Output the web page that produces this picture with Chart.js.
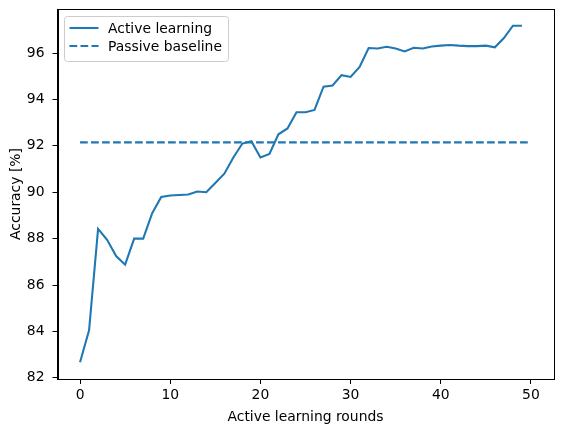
<!DOCTYPE html>
<html>
<head>
<meta charset="utf-8">
<script src="https://cdn.jsdelivr.net/npm/chart.js@4/dist/chart.umd.min.js"></script>
<style>
html,body{margin:0;padding:0;background:#fff;}
#wrap{width:563px;height:432px;position:relative;}
</style>
</head>
<body>
<div id="wrap"><canvas id="c" width="563" height="432"></canvas></div>
<script>
const rounds = [0,1,2,3,4,5,6,7,8,9,10,11,12,13,14,15,16,17,18,19,20,21,22,23,24,25,26,27,28,29,30,31,32,33,34,35,36,37,38,39,40,41,42,43,44,45,46,47,48,49];
const activeAccuracy = [82.67,84.05,88.42,87.95,87.25,86.88,88.0,88.0,89.1,89.8,
  89.86,89.88,89.9,90.03,90.0,90.4,90.8,91.5,92.1,92.2,
  91.5,91.65,92.5,92.75,93.45,93.45,93.55,94.55,94.6,95.05,
  94.97,95.4,96.22,96.2,96.27,96.2,96.07,96.23,96.2,96.28,
  96.32,96.35,96.32,96.3,96.3,96.32,96.25,96.65,97.18,97.18];
const baselineX = [0,50];
const baselineAccuracy = [92.15,92.15];
const xTicks = [0,10,20,30,40,50];
const yTicks = [82,84,86,88,90,92,94,96];
const seriesLabels = ['Active learning','Passive baseline'];

const BLUE = '#1f77b4';
const FONT = "'DejaVu Sans', sans-serif";
const FS = 13.9;

const framePlugin = {
  id: 'frame',
  afterDatasetsDraw(chart){
    const {ctx, chartArea:a} = chart;
    ctx.save();
    ctx.strokeStyle = '#000';
    ctx.lineWidth = 1;
    ctx.strokeRect(Math.round(a.left)+0.5, Math.round(a.top)+0.5, Math.round(a.right-a.left), Math.round(a.bottom-a.top));
    ctx.restore();
  }
};

const legendPlugin = {
  id: 'mplLegend',
  afterDraw(chart){
    const {ctx, chartArea:a} = chart;
    const x0 = a.left + 7, y0 = a.top + 7.5, w = 164, h = 45, r = 3;
    ctx.save();
    ctx.beginPath();
    ctx.moveTo(x0+r, y0);
    ctx.arcTo(x0+w, y0, x0+w, y0+h, r);
    ctx.arcTo(x0+w, y0+h, x0, y0+h, r);
    ctx.arcTo(x0, y0+h, x0, y0, r);
    ctx.arcTo(x0, y0, x0+w, y0, r);
    ctx.closePath();
    ctx.fillStyle = 'rgba(255,255,255,0.8)';
    ctx.fill();
    ctx.strokeStyle = '#cccccc';
    ctx.lineWidth = 1;
    ctx.stroke();
    const rows = [y0 + 11.5, y0 + 29.5];
    chart.data.datasets.forEach((ds, i) => {
      const y = rows[i];
      ctx.beginPath();
      ctx.strokeStyle = ds.borderColor;
      ctx.lineWidth = ds.borderWidth;
      ctx.setLineDash(ds.borderDash || []);
      ctx.moveTo(x0 + 5, y);
      ctx.lineTo(x0 + 34, y);
      ctx.stroke();
      ctx.setLineDash([]);
      ctx.fillStyle = '#000';
      ctx.font = FS + 'px ' + FONT;
      ctx.textBaseline = 'middle';
      ctx.fillText(ds.label, x0 + 43.5, y + 1);
    });
    ctx.restore();
  }
};

new Chart(document.getElementById('c'), {
  type: 'line',
  data: {
    datasets: [
      {
        label: seriesLabels[0],
        data: rounds.map((r, i) => ({x: r, y: activeAccuracy[i]})),
        borderColor: BLUE, borderWidth: 2.08, pointRadius: 0, tension: 0, fill: false
      },
      {
        label: seriesLabels[1],
        data: baselineX.map((r, i) => ({x: r, y: baselineAccuracy[i]})),
        borderColor: BLUE, borderWidth: 2.08, borderDash: [7.7, 3.3], pointRadius: 0, tension: 0, fill: false
      }
    ]
  },
  options: {
    responsive: false,
    animation: false,
    devicePixelRatio: 1,
    layout: {padding: {top: 9, right: 9.5, left: 0, bottom: 0}},
    plugins: {legend: {display: false}, tooltip: {enabled: false}},
    scales: {
      x: {
        type: 'linear', min: -2.5, max: 52.5,
        afterBuildTicks(s){ s.ticks = xTicks.map(v => ({value: v})); },
        afterFit(s){ s.height = 53; s.paddingLeft = 0; s.paddingRight = 0; s.paddingTop = 0; s.paddingBottom = 0; },
        grid: {drawOnChartArea: false, drawTicks: true, tickLength: 5, tickColor: '#000', tickWidth: 1},
        border: {display: true, color: '#000', width: 1},
        ticks: {color: '#000', font: {family: FONT, size: FS}, padding: 3, maxRotation: 0},
        title: {display: true, text: 'Active learning rounds', color: '#000', font: {family: FONT, size: FS}, padding: {top: 0, bottom: 6}}
      },
      y: {
        type: 'linear', min: 81.95, max: 97.9,
        afterBuildTicks(s){ s.ticks = yTicks.map(v => ({value: v})); },
        afterFit(s){ s.width = 57.5; s.paddingTop = 0; s.paddingBottom = 0; s.paddingLeft = 0; s.paddingRight = 0; },
        grid: {drawOnChartArea: false, drawTicks: true, tickLength: 5, tickColor: '#000', tickWidth: 1},
        border: {display: true, color: '#000', width: 1},
        ticks: {color: '#000', font: {family: FONT, size: FS}, padding: 8},
        title: {display: true, text: 'Accuracy [%]', color: '#000', font: {family: FONT, size: FS}, padding: {top: 8, bottom: 0}}
      }
    }
  },
  plugins: [framePlugin, legendPlugin]
});
</script>
</body>
</html>
